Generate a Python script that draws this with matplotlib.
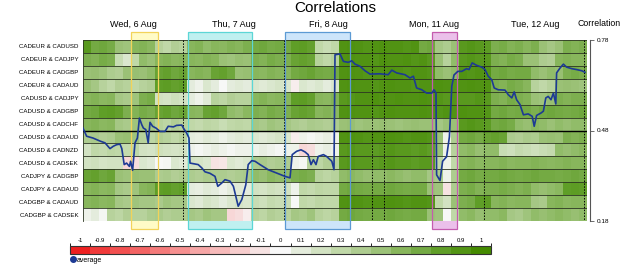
import numpy as np
import matplotlib
matplotlib.use("Agg")
import matplotlib.pyplot as plt
from matplotlib.colors import LinearSegmentedColormap, ListedColormap, BoundaryNorm
from matplotlib.patches import Rectangle
from matplotlib.lines import Line2D
import matplotlib.transforms as mtransforms
import matplotlib.cm as cm

plt.rcParams['font.family'] = ['Liberation Sans', 'DejaVu Sans']

# currency pairs, top to bottom
PAIRS = ["CADEUR & CADUSD", "CADEUR & CADJPY", "CADEUR & CADGBP", "CADEUR & CADAUD",
         "CADUSD & CADJPY", "CADUSD & CADGBP", "CADUSD & CADCHF", "CADUSD & CADAUD",
         "CADUSD & CADNZD", "CADUSD & CADSEK", "CADJPY & CADGBP", "CADJPY & CADAUD",
         "CADGBP & CADAUD", "CADGBP & CADSEK"]

# rolling correlation per pair, 63 two-hour buckets
EURUSD = [0.85, 0.7, 0.72, 0.68, 0.5, 0.48, 0.6, 0.62, 0.58, 0.35, 0.3, 0.38, 0.35, 0.6, 0.62, 0.55, 0.6, 0.58, 0.62, 0.6, 0.65, 0.7, 0.72, 0.68, 0.7, 0.7, 0.8, 0.82, 0.78, 0.3, 0.25, 0.3, 0.9, 0.92, 0.9, 0.88, 0.9, 0.92, 0.9, 0.9, 0.88, 0.9, 0.7, 0.72, 0.45, 0.4, 0.5, 0.85, 0.88, 0.85, 0.82, 0.65, 0.68, 0.62, 0.65, 0.6, 0.65, 0.5, 0.45, 0.5, 0.65, 0.62, 0.65]
EURJPY = [0.65, 0.62, 0.68, 0.65, 0.25, 0.15, 0.3, 0.55, 0.5, 0.6, 0.62, 0.58, 0.6, 0.6, 0.58, 0.62, 0.6, 0.5, 0.48, 0.52, 0.5, 0.65, 0.62, 0.68, 0.65, 0.65, 0.75, 0.78, 0.75, 0.35, 0.3, 0.35, 0.9, 0.92, 0.9, 0.9, 0.88, 0.92, 0.9, 0.9, 0.92, 0.88, 0.9, 0.85, 0.5, 0.35, 0.55, 0.85, 0.88, 0.85, 0.85, 0.65, 0.62, 0.68, 0.65, 0.5, 0.5, 0.4, 0.38, 0.6, 0.62, 0.6, 0.6]
EURGBP = [0.5, 0.52, 0.48, 0.4, 0.38, 0.5, 0.52, 0.5, 0.55, 0.75, 0.78, 0.72, 0.75, 0.6, 0.62, 0.6, 0.75, 0.78, 0.72, 0.5, 0.52, 0.6, 0.58, 0.62, 0.6, 0.6, 0.7, 0.72, 0.75, 0.7, 0.68, 0.7, 0.9, 0.92, 0.9, 0.88, 0.9, 0.9, 0.92, 0.9, 0.88, 0.9, 0.9, 0.88, 0.55, 0.5, 0.55, 0.9, 0.88, 0.9, 0.88, 0.7, 0.72, 0.68, 0.7, 0.7, 0.55, 0.5, 0.55, 0.52, 0.65, 0.68, 0.65]
EURAUD = [0.5, 0.45, 0.35, 0.3, 0.38, 0.35, 0.3, 0.35, 0.38, 0.8, 0.82, 0.78, 0.8, 0.1, 0.05, 0.15, 0.1, 0.0, 0.1, 0.12, 0.1, 0.15, 0.12, 0.15, 0.18, 0.15, -0.05, 0.15, 0.12, 0.15, 0.1, 0.15, 0.9, 0.92, 0.9, 0.9, 0.88, 0.9, 0.92, 0.9, 0.9, 0.88, 0.9, 0.9, 0.92, 0.9, 0.88, 0.9, 0.92, 0.9, 0.9, 0.65, 0.62, 0.68, 0.65, 0.6, 0.35, 0.3, 0.35, 0.5, 0.52, 0.5, 0.48]
USDJPY = [0.6, 0.62, 0.58, 0.6, 0.45, 0.42, 0.48, 0.65, 0.68, 0.2, 0.18, 0.22, 0.2, 0.1, 0.05, 0.12, 0.35, 0.32, 0.38, 0.35, 0.35, 0.6, 0.62, 0.58, 0.6, 0.6, 0.8, 0.82, 0.78, 0.6, 0.58, 0.62, 0.85, 0.88, 0.9, 0.9, 0.92, 0.9, 0.9, 0.92, 0.9, 0.9, 0.92, 0.9, 0.88, 0.85, 0.88, 0.85, 0.85, 0.88, 0.85, 0.65, 0.62, 0.68, 0.65, 0.62, 0.5, 0.48, 0.52, 0.65, 0.62, 0.65, 0.65]
USDGBP = [0.7, 0.72, 0.8, 0.82, 0.78, 0.65, 0.62, 0.68, 0.65, 0.75, 0.78, 0.72, 0.75, 0.6, 0.58, 0.75, 0.78, 0.72, 0.55, 0.52, 0.58, 0.65, 0.62, 0.68, 0.65, 0.65, 0.75, 0.78, 0.75, 0.6, 0.62, 0.58, 0.9, 0.92, 0.9, 0.9, 0.88, 0.9, 0.92, 0.9, 0.9, 0.9, 0.92, 0.9, 0.88, 0.9, 0.9, 0.92, 0.9, 0.9, 0.88, 0.7, 0.72, 0.68, 0.7, 0.7, 0.65, 0.7, 0.72, 0.7, 0.68, 0.7, 0.72]
USDCHF = [0.6, 0.62, 0.58, 0.6, 0.45, 0.42, 0.48, 0.45, 0.45, 0.35, 0.32, 0.38, 0.35, 0.3, 0.28, 0.32, 0.3, 0.25, 0.3, 0.32, 0.3, 0.45, 0.42, 0.48, 0.45, 0.45, 0.4, 0.38, 0.42, 0.4, 0.38, 0.4, 0.5, 0.52, 0.48, 0.5, 0.5, 0.52, 0.5, 0.48, 0.5, 0.52, 0.5, 0.5, 0.45, 0.5, 0.5, 0.85, 0.88, 0.85, 0.82, 0.7, 0.72, 0.68, 0.55, 0.52, 0.58, 0.55, 0.5, 0.55, 0.52, 0.55, 0.55]
USDAUD = [0.4, 0.42, 0.38, 0.4, 0.5, 0.52, 0.48, 0.35, 0.32, 0.38, 0.35, 0.3, 0.35, 0.1, 0.08, 0.12, 0.1, 0.05, 0.1, 0.12, 0.1, 0.15, 0.12, 0.15, 0.18, 0.15, -0.05, 0.05, 0.02, 0.05, 0.08, 0.05, 0.9, 0.92, 0.9, 0.88, 0.9, 0.9, 0.92, 0.9, 0.88, 0.9, 0.9, 0.88, 0.5, 0.05, 0.4, 0.7, 0.72, 0.68, 0.75, 0.78, 0.75, 0.4, 0.38, 0.42, 0.4, 0.5, 0.52, 0.5, 0.65, 0.62, 0.65]
USDNZD = [0.2, 0.3, 0.28, 0.32, 0.3, 0.28, 0.3, 0.2, 0.18, 0.22, 0.2, 0.18, 0.2, 0.05, 0.02, 0.05, 0.08, 0.05, 0.02, 0.05, 0.05, 0.05, 0.08, 0.05, 0.02, 0.05, 0.05, -0.15, -0.12, 0.05, 0.08, 0.05, 0.85, 0.88, 0.85, 0.85, 0.82, 0.85, 0.88, 0.85, 0.85, 0.82, 0.85, 0.8, 0.5, 0.05, 0.35, 0.55, 0.58, 0.52, 0.55, 0.55, 0.25, 0.22, 0.28, 0.25, 0.22, 0.25, 0.28, 0.55, 0.52, 0.55, 0.58]
USDSEK = [0.2, 0.22, 0.18, 0.2, 0.2, -0.15, -0.12, 0.15, 0.12, 0.0, 0.02, 0.15, 0.12, 0.2, 0.18, 0.15, -0.1, -0.08, 0.15, 0.12, 0.15, 0.4, 0.42, 0.38, 0.4, 0.4, 0.05, 0.02, 0.35, 0.32, 0.38, 0.35, 0.85, 0.88, 0.85, 0.85, 0.82, 0.85, 0.88, 0.85, 0.85, 0.82, 0.85, 0.85, 0.3, 0.05, 0.3, 0.6, 0.62, 0.58, 0.6, 0.6, 0.62, 0.58, 0.6, 0.6, 0.62, 0.6, 0.58, 0.6, 0.62, 0.6, 0.6]
JPYGBP = [0.75, 0.78, 0.72, 0.75, 0.5, 0.48, 0.52, 0.5, 0.5, 0.4, 0.42, 0.38, 0.4, 0.4, 0.38, 0.42, 0.4, 0.4, 0.38, 0.4, 0.42, 0.55, 0.52, 0.58, 0.55, 0.55, 0.65, 0.68, 0.65, 0.35, 0.32, 0.35, 0.55, 0.58, 0.55, 0.52, 0.55, 0.55, 0.58, 0.55, 0.52, 0.55, 0.55, 0.45, 0.42, 0.05, 0.4, 0.7, 0.72, 0.68, 0.7, 0.7, 0.72, 0.7, 0.68, 0.7, 0.72, 0.7, 0.7, 0.68, 0.7, 0.72, 0.7]
JPYAUD = [0.6, 0.62, 0.58, 0.6, 0.45, 0.42, 0.48, 0.6, 0.62, 0.8, 0.82, 0.78, 0.8, 0.1, 0.08, 0.12, 0.1, 0.05, 0.1, 0.12, 0.1, 0.2, 0.18, 0.22, 0.2, 0.2, 0.05, 0.3, 0.28, 0.32, 0.3, 0.3, 0.7, 0.72, 0.7, 0.68, 0.7, 0.7, 0.72, 0.7, 0.68, 0.7, 0.7, 0.5, 0.48, -0.1, 0.4, 0.65, 0.68, 0.62, 0.65, 0.65, 0.68, 0.65, 0.62, 0.65, 0.55, 0.52, 0.55, 0.58, 0.8, 0.82, 0.8]
GBPAUD = [0.6, 0.62, 0.58, 0.6, 0.45, 0.42, 0.48, 0.45, 0.45, 0.42, 0.48, 0.45, 0.45, 0.15, 0.12, 0.18, 0.15, 0.1, 0.15, 0.18, 0.15, 0.25, 0.22, 0.28, 0.25, 0.25, 0.0, 0.3, 0.28, 0.32, 0.3, 0.3, 0.9, 0.92, 0.9, 0.88, 0.9, 0.9, 0.92, 0.9, 0.88, 0.9, 0.9, 0.88, 0.3, 0.2, 0.5, 0.65, 0.68, 0.8, 0.82, 0.6, 0.62, 0.58, 0.6, 0.6, 0.45, 0.42, 0.6, 0.62, 0.58, 0.6, 0.6]
GBPSEK = [0.05, 0.1, 0.02, 0.35, 0.32, 0.38, 0.35, 0.35, 0.4, 0.42, 0.38, 0.4, 0.4, 0.45, 0.42, 0.48, 0.45, 0.45, -0.15, -0.12, -0.05, 0.35, 0.32, 0.38, 0.35, 0.35, 0.45, 0.42, 0.48, 0.35, 0.32, 0.35, 0.7, 0.72, 0.7, 0.68, 0.7, 0.7, 0.72, 0.7, 0.68, 0.7, 0.7, 0.5, 0.48, 0.0, 0.3, 0.55, 0.58, 0.52, 0.55, 0.55, 0.58, 0.45, 0.42, 0.48, 0.55, 0.52, 0.55, 0.58, 0.55, 0.52, 0.55]

# average correlation (right axis), time in hours from the start
AVG_T = [0, 0.9, 2.5, 4.25, 5.5, 6.75, 7.6, 8.4, 9.25, 9.7,
         10.3, 10.9, 11.6, 11.9, 12.4, 13, 13.6, 14.1, 14.7, 15.1,
         15.7, 16.3, 16.75, 17.4, 18.25, 19.25, 20.5, 21.3, 22.6, 23.4,
         24.7, 25.1, 25.9, 26.5, 26.75, 28, 28.8, 29.7, 30.5, 31.75,
         33, 33.7, 34.7, 35.5, 36.75, 37.6, 38.4, 38.8, 39.7, 40.7,
         41.3, 42.2, 43, 44.25, 46.3, 48.4, 50.5, 51.75, 52.3, 53.4,
         54.5, 55.5, 56.3, 57, 57.6, 58.25, 58.8, 60.1, 60.9, 62.2,
         62.75, 63, 64.25, 65.1, 66.3, 67.2, 68, 69.25, 70.5, 71.75,
         74.25, 76.3, 77.2, 78.4, 80.5, 81.75, 82.6, 83.4, 84.7, 85.9,
         87.2, 87.75, 88.25, 88.4, 89.25, 89.9, 90.9, 91.6, 92.2, 92.75,
         93.7, 94.7, 95.9, 96.5, 97.3, 98.4, 99.7, 100.5, 101.3, 102.2,
         102.8, 103.8, 105.5, 106.3, 107.2, 107.8, 108.4, 109.25, 110.1, 111.3,
         112.3, 112.8, 113.4, 114.5, 115.1, 115.7, 116.3, 117, 117.6, 118.2,
         118.4, 119.25, 120.1, 120.9, 122.2, 123.4, 124.7, 125.5]
AVG = [0.488, 0.461, 0.455, 0.445, 0.439, 0.420, 0.428, 0.433, 0.435, 0.420,
       0.367, 0.372, 0.361, 0.378, 0.348, 0.439, 0.455, 0.521, 0.499, 0.488,
       0.483, 0.439, 0.507, 0.494, 0.488, 0.477, 0.477, 0.494, 0.492, 0.497,
       0.498, 0.488, 0.472, 0.455, 0.372, 0.369, 0.367, 0.356, 0.343, 0.338,
       0.328, 0.295, 0.306, 0.317, 0.312, 0.295, 0.251, 0.229, 0.251, 0.300,
       0.367, 0.380, 0.378, 0.367, 0.350, 0.339, 0.328, 0.323, 0.400, 0.411,
       0.416, 0.409, 0.400, 0.367, 0.383, 0.367, 0.394, 0.400, 0.394, 0.378,
       0.350, 0.731, 0.734, 0.709, 0.706, 0.711, 0.700, 0.693, 0.678, 0.667,
       0.668, 0.665, 0.680, 0.671, 0.665, 0.654, 0.660, 0.621, 0.615, 0.604,
       0.604, 0.615, 0.604, 0.333, 0.314, 0.378, 0.393, 0.459, 0.627, 0.664,
       0.676, 0.676, 0.685, 0.682, 0.704, 0.696, 0.690, 0.682, 0.660, 0.648,
       0.621, 0.615, 0.614, 0.599, 0.588, 0.608, 0.582, 0.566, 0.532, 0.535,
       0.527, 0.494, 0.530, 0.538, 0.544, 0.588, 0.593, 0.582, 0.604, 0.568,
       0.671, 0.687, 0.700, 0.690, 0.685, 0.682, 0.678, 0.673]

DAY_LABELS = ["Wed, 6 Aug", "Thu, 7 Aug", "Fri, 8 Aug", "Mon, 11 Aug", "Tue, 12 Aug"]
DAY_CENTERS = [12.5, 37.75, 61.25, 87.75, 113]
DAY_BREAKS = [25, 50.25, 72.25, 75.25, 100.25, 125.25]

# highlighted periods: start, end, edge colour, fill colour
HIGHLIGHTS = [(12, 18.75, "#f2d35a", "#fffbc6"),
              (26.25, 42.25, "#5cd6d6", "#bff0f0"),
              (50.5, 66.75, "#5c9ad4", "#cde5fa"),
              (87.25, 93.5, "#c45cae", "#ebc0ea")]

SCALE_COLORS = ["#ee2020", "#f03a3a", "#f25050", "#f36464", "#f47a7a", "#f69090",
                "#f6a6a6", "#f7baba", "#f7cdcd", "#f6e2e2", "#f8f8f8", "#e4ecdc",
                "#d2e2c2", "#c0d8a8", "#aecc90", "#9cc278", "#88b65c", "#74aa44",
                "#609e28", "#529414", "#448a00"]
SCALE_TICKS = [-1, -0.9, -0.8, -0.7, -0.6, -0.5, -0.4, -0.3, -0.2, -0.1, 0,
               0.1, 0.2, 0.3, 0.4, 0.5, 0.6, 0.7, 0.8, 0.9, 1]

ROWS = [EURUSD, EURJPY, EURGBP, EURAUD, USDJPY, USDGBP, USDCHF, USDAUD,
        USDNZD, USDSEK, JPYGBP, JPYAUD, GBPAUD, GBPSEK]
grid = np.array(ROWS)
n_rows, n_cols = grid.shape
t_end = 2 * n_cols

fig = plt.figure(figsize=(6.25, 2.67), dpi=100)
ax = fig.add_axes([83 / 625, 46 / 267, 504 / 625, 181 / 267])

cmap = LinearSegmentedColormap.from_list("corr", SCALE_COLORS)
ax.pcolormesh(np.arange(n_cols + 1) * 2, np.arange(n_rows + 1), grid,
              cmap=cmap, vmin=-1, vmax=1, zorder=1)
ax.set_xlim(0, t_end)
ax.set_ylim(n_rows, 0)
ax.hlines(np.arange(n_rows + 1), 0, t_end, colors="#2c3522", lw=0.6, zorder=2)
ax.vlines(DAY_BREAKS, 0, n_rows, colors="black", linestyles=(0, (1.5, 1.5)),
          lw=0.7, zorder=3)

trans = mtransforms.blended_transform_factory(ax.transData, ax.transAxes)
for start, end, edge, fill in HIGHLIGHTS:
    ax.add_patch(Rectangle((start, -0.045), end - start, 1.09, transform=trans,
                           facecolor=fill, edgecolor="none", clip_on=False, zorder=0.5))
    ax.add_patch(Rectangle((start, -0.045), end - start, 1.09, transform=trans,
                           facecolor="none", edgecolor=edge, lw=0.9, clip_on=False, zorder=4))

for label, center in zip(DAY_LABELS, DAY_CENTERS):
    ax.text(center, 1.088, label, transform=trans, ha="center", va="center", fontsize=6.5)

ax.set_yticks(np.arange(n_rows) + 0.5)
ax.set_yticklabels(PAIRS, fontsize=4.4)
ax.tick_params(axis="y", length=0, pad=3.5)
ax.set_xticks([])
for side in ["top", "bottom", "right"]:
    ax.spines[side].set_visible(False)
ax.spines["left"].set_color("#2c3522")
ax.spines["left"].set_linewidth(0.6)

ax2 = ax.twinx()
ax2.set_ylim(0.18, 0.78)
ax2.axhline(0.48, color="black", lw=1.0, zorder=1)
ax2.plot(AVG_T, AVG, color="#1d3a94", lw=1.2, zorder=2)
ax2.set_yticks([0.18, 0.48, 0.78])
ax2.tick_params(axis="y", labelsize=4.6, length=3, width=0.6, color="#555555", pad=2)
for side in ["top", "bottom", "left"]:
    ax2.spines[side].set_visible(False)
ax2.spines["right"].set_position(("outward", 2))
ax2.spines["right"].set_color("#555555")
ax2.spines["right"].set_linewidth(0.8)

fig.text(335 / 625, 1 - 8 / 267, "Correlations", ha="center", va="center", fontsize=11)
fig.text(599 / 625, 1 - 24 / 267, "Correlation", ha="center", va="center", fontsize=6.3)

# discrete colour scale under the chart
cax = fig.add_axes([70 / 625, 13 / 267, 421 / 625, 8 / 267])
norm = BoundaryNorm(np.linspace(-1.05, 1.05, len(SCALE_COLORS) + 1), len(SCALE_COLORS))
sm = cm.ScalarMappable(norm=norm, cmap=ListedColormap(SCALE_COLORS))
cbar = fig.colorbar(sm, cax=cax, orientation="horizontal", ticks=SCALE_TICKS)
cbar.ax.set_xticklabels([f"{v:g}" for v in SCALE_TICKS])
cbar.ax.xaxis.set_ticks_position("top")
cbar.ax.tick_params(axis="x", length=0, labelsize=4.3, pad=2)
cbar.outline.set_edgecolor("#333333")
cbar.outline.set_linewidth(0.8)

handle = Line2D([], [], marker="o", ls="none", color="#1d3a94", markersize=4)
fig.legend([handle], ["average"], loc="center left", bbox_to_anchor=(66 / 625, 1 - 260 / 267),
           frameon=False, fontsize=5, handletextpad=0.1, borderpad=0, handlelength=1)

fig.savefig("out.png", dpi=100)
